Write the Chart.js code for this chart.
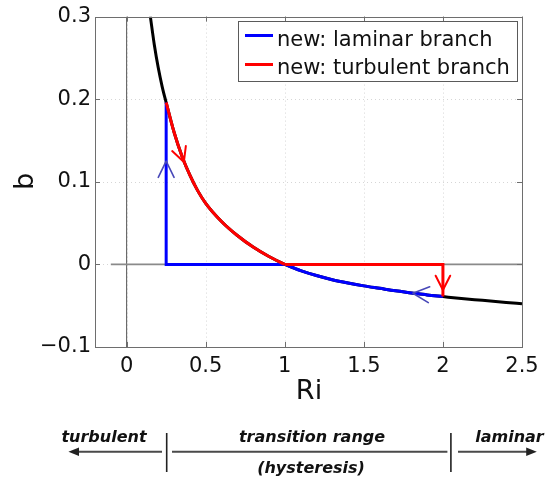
<!DOCTYPE html>
<html>
<head>
<meta charset="utf-8">
<script src="https://cdn.jsdelivr.net/npm/chart.js@4.4.1/dist/chart.umd.min.js"></script>
<style>
  html, body { margin: 0; padding: 0; background: #fff; }
  canvas { display: block; }
</style>
</head>
<body>
<canvas id="chart" width="548" height="478"></canvas>
<script>
// b(Ri): equilibrium curve sampled along the Richardson number
const curveRi = [0.15, 0.175, 0.20, 0.225, 0.25, 0.30, 0.35, 0.40, 0.45, 0.50, 0.60, 0.70, 0.80, 0.90,
                 1.00, 1.10, 1.20, 1.30, 1.40, 1.50, 1.60, 1.70, 1.80, 1.90, 2.00, 2.10, 2.25, 2.40, 2.50];
const curveB  = [0.300, 0.266, 0.238, 0.215, 0.196, 0.160, 0.131, 0.108, 0.089, 0.074, 0.052, 0.035, 0.021, 0.0095,
                 0.000, -0.0075, -0.0135, -0.0185, -0.0225, -0.026, -0.029, -0.032, -0.0345, -0.037, -0.039, -0.041, -0.0435, -0.046, -0.0475];

// Stretches of the curve followed by each branch
const laminarCurveRange   = [1.0, 2.0];
const turbulentCurveRange = [0.25, 1.0];

// Straight legs of the hysteresis loop
const laminarStepRi   = [1.0, 0.25, 0.25];
const laminarStepB    = [0, 0, 0.196];
const turbulentStepRi = [1.0, 2.0, 2.0];
const turbulentStepB  = [0, 0, -0.039];

// Reference lines b = 0 and Ri = 0
const zeroLineRi = [-0.1, 2.5];
const zeroLineB  = [0, 0];
const axisLineRi = [0, 0];
const axisLineB  = [-0.1, 0.3];

// Direction arrows along the loop: tip (Ri, b) and heading on screen (degrees)
const arrowRi      = [0.362, 0.25, 1.81, 2.0];
const arrowB       = [0.124, 0.125, -0.035, -0.031];
const arrowHeading = [70, -90, 185, 90];
const arrowBranch  = ['turbulent', 'laminar', 'laminar', 'turbulent'];

// Axis ticks
const xTickValues = [0, 0.5, 1, 1.5, 2, 2.5];
const xTickLabels = ['0', '0.5', '1', '1.5', '2', '2.5'];
const yTickValues = [-0.1, 0, 0.1, 0.2, 0.3];
const yTickLabels = ['\u22120.1', '0', '0.1', '0.2', '0.3'];

const legendLabels = ['new: laminar branch', 'new: turbulent branch'];

const FONT = '"DejaVu Sans", "Liberation Sans", sans-serif';
const BLUE = '#0000ff', RED = '#ff0000';

function zip(xs, ys) { return xs.map((x, i) => ({ x, y: ys[i] })); }
function slice(range) {
  return zip(curveRi, curveB).filter(p => p.x >= range[0] - 1e-9 && p.x <= range[1] + 1e-9);
}

const lineBase = { showLine: true, pointRadius: 0, pointHoverRadius: 0, fill: false };

const datasets = [
  { ...lineBase, label: 'turbulent curve', data: slice(turbulentCurveRange), borderColor: RED, borderWidth: 3,
    cubicInterpolationMode: 'monotone', tension: 0.4, order: 1 },
  { ...lineBase, label: 'turbulent step', data: zip(turbulentStepRi, turbulentStepB), borderColor: RED, borderWidth: 3,
    tension: 0, borderJoinStyle: 'miter', order: 1 },
  { ...lineBase, label: 'laminar curve', data: slice(laminarCurveRange), borderColor: BLUE, borderWidth: 3,
    cubicInterpolationMode: 'monotone', tension: 0.4, order: 2 },
  { ...lineBase, label: 'laminar step', data: zip(laminarStepRi, laminarStepB), borderColor: BLUE, borderWidth: 3,
    tension: 0, borderJoinStyle: 'miter', order: 2 },
  { ...lineBase, label: 'equilibrium', data: zip(curveRi, curveB), borderColor: '#000', borderWidth: 3,
    cubicInterpolationMode: 'monotone', tension: 0.4, order: 3 },
  { ...lineBase, label: 'b = 0', data: zip(zeroLineRi, zeroLineB), borderColor: '#8a8a8a', borderWidth: 1.6,
    tension: 0, order: 4 },
  { ...lineBase, label: 'Ri = 0', data: zip(axisLineRi, axisLineB), borderColor: '#555', borderWidth: 1,
    tension: 0, order: 5 }
];

// Dotted grid, inward tick marks and the box around the plot area
const framePlugin = {
  id: 'frame',
  beforeDatasetsDraw(chart) {
    const { ctx, chartArea: a, scales: { x, y } } = chart;
    ctx.save();
    ctx.strokeStyle = '#d6d6d6';
    ctx.lineWidth = 1;
    ctx.setLineDash([1, 3]);
    ctx.beginPath();
    xTickValues.forEach(v => { const px = Math.round(x.getPixelForValue(v)) + 0.5; ctx.moveTo(px, a.top); ctx.lineTo(px, a.bottom); });
    yTickValues.forEach(v => { const py = Math.round(y.getPixelForValue(v)) + 0.5; ctx.moveTo(a.left, py); ctx.lineTo(a.right, py); });
    ctx.stroke();
    ctx.restore();
  },
  afterDatasetsDraw(chart) {
    const { ctx, chartArea: a, scales: { x, y } } = chart;
    ctx.save();
    ctx.strokeStyle = '#6e6e6e';
    ctx.lineWidth = 1;
    ctx.beginPath();
    const t = 5;
    xTickValues.forEach(v => {
      const px = Math.round(x.getPixelForValue(v)) + 0.5;
      ctx.moveTo(px, a.bottom); ctx.lineTo(px, a.bottom - t);
      ctx.moveTo(px, a.top); ctx.lineTo(px, a.top + t);
    });
    yTickValues.forEach(v => {
      const py = Math.round(y.getPixelForValue(v)) + 0.5;
      ctx.moveTo(a.left, py); ctx.lineTo(a.left + t, py);
      ctx.moveTo(a.right, py); ctx.lineTo(a.right - t, py);
    });
    ctx.stroke();
    ctx.strokeRect(Math.round(a.left) + 0.5, Math.round(a.top) + 0.5,
                   Math.round(a.right - a.left), Math.round(a.bottom - a.top));
    ctx.restore();
  }
};

// Open chevrons showing the direction of travel around the loop
const arrowPlugin = {
  id: 'loopArrows',
  afterDatasetsDraw(chart) {
    const { ctx, scales: { x, y } } = chart;
    const style = {
      turbulent: { color: RED, width: 2, len: 16, half: 27 },
      laminar:   { color: '#4848b8', width: 1.6, len: 18, half: 26 }
    };
    ctx.save();
    ctx.lineCap = 'round';
    ctx.lineJoin = 'round';
    arrowRi.forEach((ri, i) => {
      const s = style[arrowBranch[i]];
      const px = x.getPixelForValue(ri), py = y.getPixelForValue(arrowB[i]);
      const h = arrowHeading[i] * Math.PI / 180, w = s.half * Math.PI / 180;
      ctx.strokeStyle = s.color;
      ctx.lineWidth = s.width;
      ctx.beginPath();
      ctx.moveTo(px - s.len * Math.cos(h - w), py - s.len * Math.sin(h - w));
      ctx.lineTo(px, py);
      ctx.lineTo(px - s.len * Math.cos(h + w), py - s.len * Math.sin(h + w));
      ctx.stroke();
    });
    ctx.restore();
  }
};

// Boxed legend in the upper right corner
const legendPlugin = {
  id: 'boxLegend',
  afterDraw(chart) {
    const { ctx } = chart;
    const colors = [BLUE, RED];
    ctx.save();
    ctx.fillStyle = '#fff';
    ctx.fillRect(238.5, 21.5, 279, 60);
    ctx.strokeStyle = '#5a5a5a';
    ctx.lineWidth = 1;
    ctx.strokeRect(238.5, 21.5, 279, 60);
    ctx.font = '21px ' + FONT;
    ctx.textAlign = 'left';
    ctx.textBaseline = 'alphabetic';
    legendLabels.forEach((label, i) => {
      const lineY = 35.5 + i * 29;
      ctx.strokeStyle = colors[i];
      ctx.lineWidth = 3;
      ctx.beginPath();
      ctx.moveTo(245, lineY);
      ctx.lineTo(273, lineY);
      ctx.stroke();
      ctx.fillStyle = '#111';
      ctx.fillText(label, 277, 45.5 + i * 28);
    });
    ctx.restore();
  }
};

// Axis titles and the flow-regime bar underneath the axis
const labelPlugin = {
  id: 'labels',
  afterDraw(chart) {
    const { ctx } = chart;
    ctx.save();
    ctx.fillStyle = '#111';
    ctx.font = '27px ' + FONT;
    ctx.textAlign = 'center';
    ctx.textBaseline = 'alphabetic';
    ctx.fillText('Ri', 309, 398.5);
    ctx.save();
    ctx.translate(33, 181.5);
    ctx.rotate(-Math.PI / 2);
    ctx.fillText('b', 0, 0);
    ctx.restore();

    ctx.font = 'italic bold 16px ' + FONT;
    ctx.fillText('turbulent', 104, 441.7);
    ctx.fillText('transition range', 312, 441.7);
    ctx.fillText('laminar', 509.5, 441.7);
    ctx.fillText('(hysteresis)', 311, 472.5);

    ctx.strokeStyle = '#4a4a4a';
    ctx.lineWidth = 2;
    ctx.beginPath();
    ctx.moveTo(162, 451.7); ctx.lineTo(76, 451.7);
    ctx.moveTo(172, 451.7); ctx.lineTo(447.4, 451.7);
    ctx.moveTo(458, 451.7); ctx.lineTo(529, 451.7);
    ctx.stroke();
    ctx.fillStyle = '#222';
    ctx.beginPath();
    ctx.moveTo(68.4, 451.7); ctx.lineTo(79, 447.5); ctx.lineTo(79, 455.9); ctx.closePath();
    ctx.moveTo(536.8, 451.7); ctx.lineTo(526.2, 447.5); ctx.lineTo(526.2, 455.9); ctx.closePath();
    ctx.fill();

    ctx.strokeStyle = '#222';
    ctx.lineWidth = 1.6;
    ctx.beginPath();
    ctx.moveTo(166.7, 433); ctx.lineTo(166.7, 472);
    ctx.moveTo(450.9, 433); ctx.lineTo(450.9, 472);
    ctx.stroke();
    ctx.restore();
  }
};

Chart.defaults.font.family = FONT;
Chart.defaults.color = '#111';

new Chart(document.getElementById('chart'), {
  type: 'scatter',
  data: { datasets },
  options: {
    responsive: false,
    animation: false,
    events: [],
    layout: { padding: { top: 15, right: 26, bottom: 0, left: 0 } },
    plugins: { legend: { display: false }, tooltip: { enabled: false } },
    scales: {
      x: {
        type: 'linear', min: -0.2, max: 2.5,
        afterBuildTicks: s => { s.ticks = xTickValues.map(v => ({ value: v })); },
        afterFit: s => { s.height = 131; },
        ticks: {
          font: { size: 21 }, color: '#111', padding: 7, maxRotation: 0, autoSkip: false,
          callback: v => xTickLabels[xTickValues.indexOf(v)] ?? ''
        },
        grid: { display: false, drawTicks: false },
        border: { display: false }
      },
      y: {
        type: 'linear', min: -0.1, max: 0.3,
        afterBuildTicks: s => { s.ticks = yTickValues.map(v => ({ value: v })); },
        afterFit: s => { s.width = 95; },
        ticks: {
          font: { size: 21 }, color: '#111', padding: 4, autoSkip: false,
          callback: v => yTickLabels[yTickValues.indexOf(v)] ?? ''
        },
        grid: { display: false, drawTicks: false },
        border: { display: false }
      }
    }
  },
  plugins: [framePlugin, arrowPlugin, legendPlugin, labelPlugin]
});
</script>
</body>
</html>
